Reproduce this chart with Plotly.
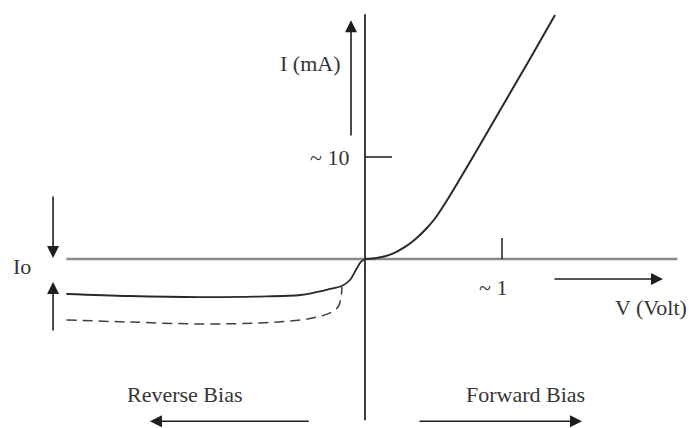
import plotly.graph_objects as go

# Diode I-V characteristic (schematic). V in volts, I in mA.
forward_v = [0.0, 0.073, 0.146, 0.219, 0.292, 0.365, 0.438, 0.511, 0.591, 0.774, 0.985, 1.190, 1.387]
forward_i = [0.0, 0.078, 0.265, 0.63, 1.18, 1.91, 2.84, 3.97, 5.59, 9.69, 14.57, 19.28, 23.92]

reverse_v = [-2.18, -1.72, -1.20, -0.77, -0.47, -0.38, -0.255, -0.17, -0.11, -0.058, -0.03, 0.0]
reverse_i = [-3.43, -3.63, -3.73, -3.68, -3.53, -3.33, -2.94, -2.65, -2.06, -0.88, -0.29, 0.0]

reverse_hot_v = [-2.18, -1.72, -1.20, -0.77, -0.47, -0.35, -0.255, -0.197, -0.175, -0.168]
reverse_hot_i = [-5.98, -6.18, -6.37, -6.27, -5.98, -5.69, -5.29, -4.71, -3.73, -2.75]

tick_v = [1.0]
tick_v_labels = ["~ 1"]
tick_i = [10.0]
tick_i_labels = ["~ 10"]

FONT = "Liberation Serif"
TXT = "#363636"
INK = "#2a2a2a"

fig = go.Figure()

# axes drawn as plain lines through the origin
fig.add_trace(go.Scatter(x=[-2.18, 2.28], y=[0, 0], mode="lines",
                         line=dict(color="#8a8a8a", width=2.5), hoverinfo="skip"))
fig.add_trace(go.Scatter(x=[0, 0], y=[-15.8, 24.0], mode="lines",
                         line=dict(color=INK, width=1.8), hoverinfo="skip"))

# tick marks
for tv in tick_v:
    fig.add_trace(go.Scatter(x=[tv, tv], y=[0, 2.06], mode="lines",
                             line=dict(color=INK, width=1.6), hoverinfo="skip"))
for ti in tick_i:
    fig.add_trace(go.Scatter(x=[0, 0.197], y=[ti, ti], mode="lines",
                             line=dict(color=INK, width=1.6), hoverinfo="skip"))

# characteristic curves
fig.add_trace(go.Scatter(x=forward_v, y=forward_i, mode="lines", line_shape="spline",
                         line=dict(color=INK, width=2), hoverinfo="skip"))
fig.add_trace(go.Scatter(x=reverse_v, y=reverse_i, mode="lines", line_shape="spline",
                         line=dict(color=INK, width=1.8), hoverinfo="skip"))
fig.add_trace(go.Scatter(x=reverse_hot_v, y=reverse_hot_i, mode="lines", line_shape="spline",
                         line=dict(color="#404040", width=1.5, dash="10px,6px"), hoverinfo="skip"))

annotations = []

def arrow(x0, y0, x1, y1):
    annotations.append(dict(x=x1, y=y1, ax=x0, ay=y0, xref="x", yref="y",
                            axref="x", ayref="y", text="", showarrow=True,
                            arrowhead=2, arrowsize=1.5, arrowwidth=1.6,
                            arrowcolor="#1e1e1e", standoff=0, startstandoff=0))

def label(x, y, text, xanchor="center"):
    annotations.append(dict(x=x, y=y, xref="x", yref="y", text=text, showarrow=False,
                            xanchor=xanchor, yanchor="middle",
                            font=dict(family=FONT, size=22, color=TXT)))

arrow(-0.102, 11.96, -0.102, 23.4)      # current direction
arrow(1.372, -1.96, 2.175, -1.96)       # voltage direction
arrow(-2.277, 6.27, -2.277, 0.10)       # Io brace, top
arrow(-2.277, -7.16, -2.277, -2.25)     # Io brace, bottom
arrow(-0.40, -15.9, -1.57, -15.9)       # reverse bias
arrow(0.387, -15.9, 1.584, -15.9)       # forward bias

label(-0.401, 19.2, "I (mA)")
for ti, tl in zip(tick_i, tick_i_labels):
    label(-0.10, ti, tl, xanchor="right")
for tv, tl in zip(tick_v, tick_v_labels):
    label(tv - 0.066, -2.75, tl)
label(2.088, -4.8, "V (Volt)")
label(-2.504, -0.78, "Io")
label(-1.314, -13.33, "Reverse Bias")
label(1.168, -13.33, "Forward Bias")

fig.update_layout(
    width=689, height=428,
    margin=dict(l=0, r=0, t=0, b=0),
    paper_bgcolor="white", plot_bgcolor="white",
    showlegend=False,
    xaxis=dict(range=[-2.6642, 2.3650], visible=False, fixedrange=True),
    yaxis=dict(range=[-16.569, 25.392], visible=False, fixedrange=True),
    annotations=annotations,
)

fig.write_html("out.html")
